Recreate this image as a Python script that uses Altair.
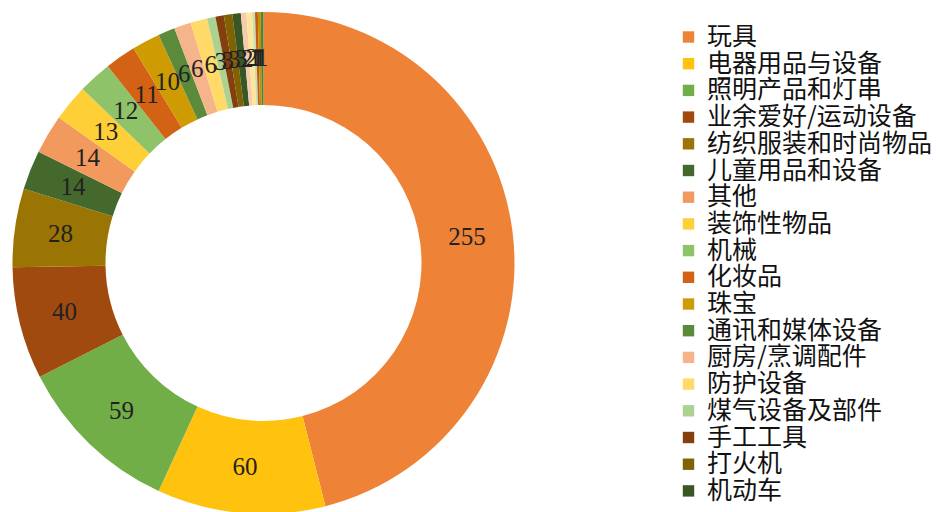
import altair as alt
import pandas as pd

categories = ["玩具", "电器用品与设备", "照明产品和灯串", "业余爱好/运动设备", "纺织服装和时尚物品",
              "儿童用品和设备", "其他", "装饰性物品", "机械", "化妆品", "珠宝", "通讯和媒体设备",
              "厨房/烹调配件", "防护设备", "煤气设备及部件", "手工工具", "打火机", "机动车",
              "类别19", "类别20", "类别21", "类别22", "类别23", "类别24"]
values = [255, 60, 59, 40, 28, 14, 14, 13, 12, 11, 10, 6, 6, 6, 3, 3, 3, 3, 2, 2, 1, 1, 1, 1]
colors = ["#EE8236", "#FFC20E", "#72AE48", "#A14A10", "#9B7503", "#45692D", "#F29A5E", "#FFCF38",
          "#8EC36A", "#D46214", "#CE9C02", "#5B8B3A", "#F5B489", "#FFDA69", "#ABD290", "#853E0E",
          "#816203", "#385725", "#F8CBAD", "#FFE699", "#C5E0B4", "#C55A11", "#BF9000", "#548235"]
legend_names = categories[:18]

df = pd.DataFrame({"cat": categories, "value": values, "idx": list(range(len(categories)))})

cx, cy = 255.5, 255
base = alt.Chart(df).encode(
    theta=alt.Theta("value:Q", stack=True),
    order=alt.Order("idx:Q", sort="ascending"),
)

arcs = base.mark_arc(outerRadius=251, innerRadius=158, x=cx, y=cy).encode(
    color=alt.Color("cat:N",
                    scale=alt.Scale(domain=categories, range=colors),
                    legend=alt.Legend(values=legend_names, title=None, orient="none",
                                      legendX=668, legendY=16.5, symbolType="square",
                                      symbolSize=130, symbolStrokeWidth=0,
                                      labelFont="Noto Sans CJK SC", labelFontSize=25,
                                      labelColor="#111", rowPadding=0.7, labelLimit=400,
                                      symbolOffset=0, labelOffset=6)),
)

labels = base.mark_text(radius=205, x=cx, y=cy, font="Liberation Serif", fontSize=25,
                        color="#222").encode(text=alt.Text("value:Q"))

chart = (arcs + labels).properties(
    width=925, height=504, padding=0, autosize=alt.AutoSizeParams(type="none")
).configure_view(stroke=None)

chart.save("out.html", embed_options={"renderer": "svg", "actions": False})
